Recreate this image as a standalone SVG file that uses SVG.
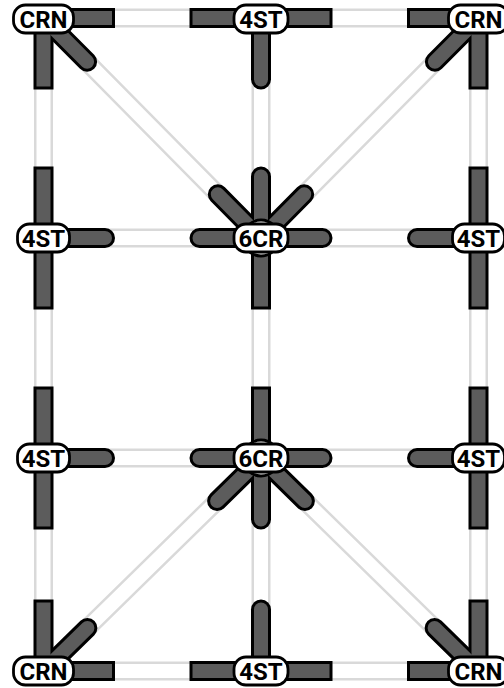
<svg xmlns="http://www.w3.org/2000/svg" width="504" height="688" viewBox="0 0 504 688">
<style>
.rg{fill:none;stroke:#d9d9d9;stroke-width:19}
.rw{fill:none;stroke:#ffffff;stroke-width:14}
.sb{stroke:#000;stroke-width:20;fill:none}
.sg{stroke:#5c5c5c;stroke-width:14;fill:none}
.r{stroke-linecap:round}
.lb{fill:#fff;stroke:#000;stroke-width:2.8}
.hub{fill:#fff;stroke:#000;stroke-width:2.8}
.t{font-family:Roboto,"Liberation Sans",sans-serif;font-weight:700;font-size:24px;text-anchor:middle;fill:#000}
</style>
<defs>
<path id="rails" d="M43.5 18H261M261 18H478.5M43.5 238H261M261 238H478.5M43.5 458H261M261 458H478.5M43.5 671H261M261 671H478.5M43.5 18V238M43.5 238V458M43.5 458V671M261 18V238M261 238V458M261 458V671M478.5 18V238M478.5 238V458M478.5 458V671M43.5 18L261 238M478.5 18L261 238M261 458L43.5 671M261 458L478.5 671"/>
</defs>
<rect width="504" height="688" fill="#fff"/>
<g id="connectors">
<use href="#rails" class="rg"/>
<use href="#rails" class="rw"/>
</g>
<g id="n1">
<path class="sb" d="M43.5 18H115M43.5 18V89.5"/><path class="sb r" d="M43.5 18L87.1 61.7"/>
<path class="sg" d="M43.5 18H112M43.5 18V86.5"/><path class="sg r" d="M43.5 18L87.1 61.7"/>
<rect class="lb" x="13.5" y="5" width="60" height="28" rx="12"/><text class="t" x="43.5" y="27.5">CRN</text>
</g>
<g id="n2">
<path class="sb" d="M261 18H189.5M261 18H332.5"/><path class="sb r" d="M261 18V79.5"/>
<path class="sg" d="M261 18H192.5M261 18H329.5"/><path class="sg r" d="M261 18V79.5"/>
<rect class="lb" x="234" y="5" width="54" height="28" rx="12"/><text class="t" x="261" y="27.5">4ST</text>
</g>
<g id="n3">
<path class="sb" d="M478.5 18H407M478.5 18V89.5"/><path class="sb r" d="M478.5 18L434.9 61.7"/>
<path class="sg" d="M478.5 18H410M478.5 18V86.5"/><path class="sg r" d="M478.5 18L434.9 61.7"/>
<rect class="lb" x="448.5" y="5" width="60" height="28" rx="12"/><text class="t" x="478.5" y="27.5">CRN</text>
</g>
<g id="n4">
<path class="sb" d="M43.5 238V166.5M43.5 238V309.5"/><path class="sb r" d="M43.5 238H105"/>
<path class="sg" d="M43.5 238V169.5M43.5 238V306.5"/><path class="sg r" d="M43.5 238H105"/>
<rect class="lb" x="17.5" y="224" width="52" height="28" rx="12"/><text class="t" x="43.5" y="246.5">4ST</text>
</g>
<g id="n5">
<path class="sb" d="M261 238V309.5"/><path class="sb r" d="M261 238V176.5M261 238L217.8 194.3M261 238L304.2 194.3M261 238H199.5M261 238H322.5"/>
<path class="sg" d="M261 238V306.5"/><path class="sg r" d="M261 238V176.5M261 238L217.8 194.3M261 238L304.2 194.3M261 238H199.5M261 238H322.5"/>
<circle class="hub" cx="261" cy="238" r="18"/>
<rect class="lb" x="234" y="224" width="54" height="28" rx="12"/><text class="t" x="261" y="246.5">6CR</text>
</g>
<g id="n6">
<path class="sb" d="M478.5 238V166.5M478.5 238V309.5"/><path class="sb r" d="M478.5 238H417"/>
<path class="sg" d="M478.5 238V169.5M478.5 238V306.5"/><path class="sg r" d="M478.5 238H417"/>
<rect class="lb" x="452.5" y="224" width="52" height="28" rx="12"/><text class="t" x="478.5" y="246.5">4ST</text>
</g>
<g id="n7">
<path class="sb" d="M43.5 458V386.5M43.5 458V529.5"/><path class="sb r" d="M43.5 458H105"/>
<path class="sg" d="M43.5 458V389.5M43.5 458V526.5"/><path class="sg r" d="M43.5 458H105"/>
<rect class="lb" x="17.5" y="444" width="52" height="28" rx="12"/><text class="t" x="43.5" y="466.5">4ST</text>
</g>
<g id="n8">
<path class="sb" d="M261 458V386.5"/><path class="sb r" d="M261 458V519.5M261 458L217.1 501M261 458L304.9 501M261 458H199.5M261 458H322.5"/>
<path class="sg" d="M261 458V389.5"/><path class="sg r" d="M261 458V519.5M261 458L217.1 501M261 458L304.9 501M261 458H199.5M261 458H322.5"/>
<circle class="hub" cx="261" cy="458" r="18"/>
<rect class="lb" x="234" y="444" width="54" height="28" rx="12"/><text class="t" x="261" y="466.5">6CR</text>
</g>
<g id="n9">
<path class="sb" d="M478.5 458V386.5M478.5 458V529.5"/><path class="sb r" d="M478.5 458H417"/>
<path class="sg" d="M478.5 458V389.5M478.5 458V526.5"/><path class="sg r" d="M478.5 458H417"/>
<rect class="lb" x="452.5" y="444" width="52" height="28" rx="12"/><text class="t" x="478.5" y="466.5">4ST</text>
</g>
<g id="n10">
<path class="sb" d="M43.5 671H115M43.5 671V599.5"/><path class="sb r" d="M43.5 671L87.4 628"/>
<path class="sg" d="M43.5 671H112M43.5 671V602.5"/><path class="sg r" d="M43.5 671L87.4 628"/>
<rect class="lb" x="13.5" y="657" width="60" height="28" rx="12"/><text class="t" x="43.5" y="679.5">CRN</text>
</g>
<g id="n11">
<path class="sb" d="M261 671H189.5M261 671H332.5"/><path class="sb r" d="M261 671V609.5"/>
<path class="sg" d="M261 671H192.5M261 671H329.5"/><path class="sg r" d="M261 671V609.5"/>
<rect class="lb" x="234" y="657" width="54" height="28" rx="12"/><text class="t" x="261" y="679.5">4ST</text>
</g>
<g id="n12">
<path class="sb" d="M478.5 671H407M478.5 671V599.5"/><path class="sb r" d="M478.5 671L434.6 628"/>
<path class="sg" d="M478.5 671H410M478.5 671V602.5"/><path class="sg r" d="M478.5 671L434.6 628"/>
<rect class="lb" x="448.5" y="657" width="60" height="28" rx="12"/><text class="t" x="478.5" y="679.5">CRN</text>
</g>
</svg>
